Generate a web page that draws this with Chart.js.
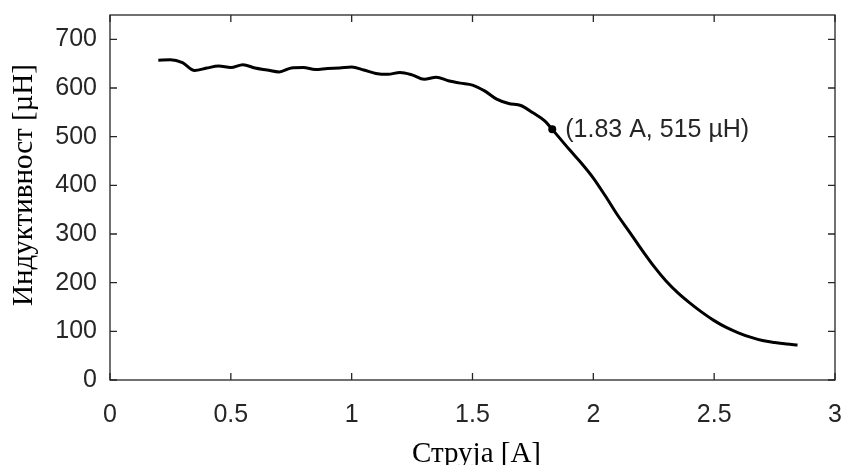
<!DOCTYPE html>
<html>
<head>
<meta charset="utf-8">
<script src="https://cdn.jsdelivr.net/npm/chart.js@4.4.0/dist/chart.umd.min.js"></script>
<style>
    html, body { margin: 0; padding: 0; background: #fff; }
    #wrap { width: 841px; height: 465px; }
</style>
</head>
<body>
<div id="wrap"><canvas id="chart" width="841" height="465"></canvas></div>
<script>
// Measured curve: inductance vs. current
const current = [
    0.20, 0.25, 0.30, 0.35, 0.40, 0.45, 0.50, 0.55, 0.60, 0.65,
    0.70, 0.75, 0.80, 0.85, 0.90, 0.95, 1.00, 1.05, 1.10, 1.15,
    1.20, 1.25, 1.30, 1.35, 1.40, 1.45, 1.50, 1.55, 1.60, 1.65,
    1.70, 1.75, 1.80, 1.83, 1.90, 1.95, 2.00, 2.05, 2.10, 2.15,
    2.20, 2.25, 2.30, 2.35, 2.40, 2.45, 2.50, 2.55, 2.60, 2.65,
    2.70, 2.75, 2.80, 2.845
];
const inductance = [
    657, 658, 652, 636, 641, 645, 642, 648, 641, 637,
    633, 641, 642, 638, 640, 641, 643, 637, 630, 628,
    632, 627, 618, 622, 615, 610, 606, 594, 577, 568,
    564, 549, 532, 515, 474, 446, 415, 378, 339, 304,
    268, 234, 204, 179, 158, 139, 122, 108, 97, 88,
    81, 77, 74, 72
];

// Highlighted point
const markerCurrent = [1.83];
const markerInductance = [515];
const markerLabel = '(1.83 A, 515 µH)';

// Axis ticks and titles
const xTicks = [0, 0.5, 1, 1.5, 2, 2.5, 3];
const yTicks = [0, 100, 200, 300, 400, 500, 600, 700];
const xTitle = 'Струја [A]';
const yTitle = 'Индуктивност [µH]';

const axisColor = '#262626';
const sansFont = '"Liberation Sans", Arial, sans-serif';
const serifFont = '"Liberation Serif", "Times New Roman", serif';

// Box around the plot with inward ticks on all four sides
const boxTicks = {
    id: 'boxTicks',
    afterDatasetsDraw(chart) {
        const {ctx, chartArea: a, scales} = chart;
        const len = 7;
        ctx.save();
        ctx.strokeStyle = axisColor;
        ctx.lineWidth = 1.3;
        ctx.strokeRect(a.left, a.top, a.right - a.left, a.bottom - a.top);
        ctx.beginPath();
        xTicks.forEach(v => {
            const px = scales.x.getPixelForValue(v);
            ctx.moveTo(px, a.bottom);
            ctx.lineTo(px, a.bottom - len);
            ctx.moveTo(px, a.top);
            ctx.lineTo(px, a.top + len);
        });
        yTicks.forEach(v => {
            const py = scales.y.getPixelForValue(v);
            ctx.moveTo(a.left, py);
            ctx.lineTo(a.left + len, py);
            ctx.moveTo(a.right, py);
            ctx.lineTo(a.right - len, py);
        });
        ctx.stroke();
        ctx.restore();
    }
};

// Text next to the highlighted point, plus the axis titles
const textLayer = {
    id: 'textLayer',
    afterDraw(chart) {
        const {ctx, scales, chartArea: a} = chart;
        const px = scales.x.getPixelForValue(markerCurrent[0]);
        const py = scales.y.getPixelForValue(markerInductance[0]);
        ctx.save();
        ctx.fillStyle = axisColor;
        ctx.font = '25px ' + sansFont;
        ctx.textAlign = 'left';
        ctx.textBaseline = 'middle';
        ctx.fillText(markerLabel, px + 13, py + 1);

        ctx.fillStyle = '#000';
        ctx.font = '29px ' + serifFont;
        ctx.textAlign = 'center';
        ctx.textBaseline = 'alphabetic';
        ctx.fillText(xTitle, (a.left + a.right) / 2 + 4, 462);

        ctx.translate(24, 185);
        ctx.rotate(-Math.PI / 2);
        ctx.textBaseline = 'middle';
        ctx.fillText(yTitle, 0, 0);
        ctx.restore();
    }
};

const ctx = document.getElementById('chart').getContext('2d');
new Chart(ctx, {
    type: 'scatter',
    data: {
        datasets: [
            {
                data: current.map((x, i) => ({x: x, y: inductance[i]})),
                showLine: true,
                borderColor: '#000',
                borderWidth: 3,
                pointRadius: 0,
                cubicInterpolationMode: 'monotone'
            },
            {
                data: markerCurrent.map((x, i) => ({x: x, y: markerInductance[i]})),
                showLine: false,
                pointRadius: 4,
                backgroundColor: '#000',
                borderColor: '#000',
                borderWidth: 0
            }
        ]
    },
    options: {
        responsive: false,
        animation: false,
        devicePixelRatio: 1,
        layout: {
            padding: {top: 15, right: 6, left: 0, bottom: 0}
        },
        plugins: {
            legend: {display: false},
            tooltip: {enabled: false}
        },
        scales: {
            x: {
                type: 'linear',
                min: 0,
                max: 3,
                afterBuildTicks: s => { s.ticks = xTicks.map(v => ({value: v})); },
                afterFit: s => {
                    s.height = 85;
                    s.paddingLeft = 0;
                    s.paddingRight = 0;
                },
                grid: {display: false, drawTicks: false},
                border: {display: false},
                ticks: {
                    color: axisColor,
                    padding: 20,
                    maxRotation: 0,
                    callback: v => String(v),
                    font: {family: sansFont, size: 25}
                }
            },
            y: {
                type: 'linear',
                min: 0,
                max: 750,
                afterBuildTicks: s => { s.ticks = yTicks.map(v => ({value: v})); },
                afterFit: s => {
                    s.width = 110;
                    s.paddingTop = 0;
                    s.paddingBottom = 0;
                },
                grid: {display: false, drawTicks: false},
                border: {display: false},
                ticks: {
                    color: axisColor,
                    padding: 13,
                    callback: v => String(v),
                    font: {family: sansFont, size: 25}
                }
            }
        }
    },
    plugins: [boxTicks, textLayer]
});
</script>
</body>
</html>
